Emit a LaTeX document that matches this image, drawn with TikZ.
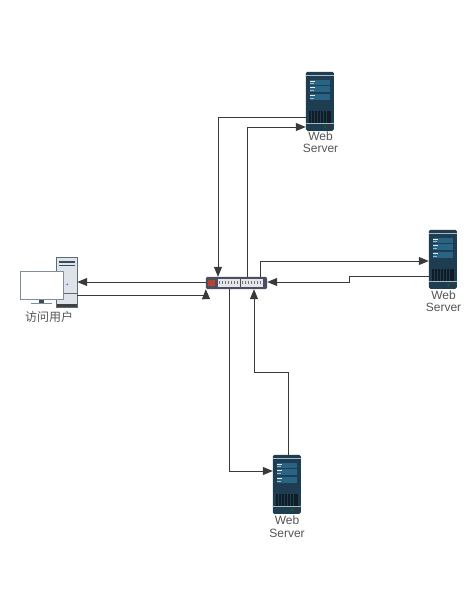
\documentclass[tikz,border=0pt]{standalone}
\usepackage{fontspec}
\setmainfont{Liberation Sans}
\newfontfamily\cjk{Noto Sans CJK SC}
\usetikzlibrary{arrows.meta,calc}
\definecolor{srvdark}{HTML}{1E3D50}
\definecolor{srvmid}{HTML}{2A6485}
\definecolor{srvblack}{HTML}{101C26}
\definecolor{srvlight}{HTML}{A9BAC4}
\definecolor{linec}{HTML}{3A3A3A}
\definecolor{txt}{HTML}{555555}
\definecolor{swbody}{HTML}{4B4F5F}
\definecolor{swred}{HTML}{B5452E}
\definecolor{swport}{HTML}{E4E5E8}
\definecolor{twbody}{HTML}{DDE3E8}
\definecolor{twedge}{HTML}{5D6C78}
\definecolor{twdark}{HTML}{3A4A58}
\definecolor{monedge}{HTML}{7F8E9A}
\tikzset{
 x=1pt,y=-1pt,
 plain/.style={draw=linec,line width=1pt},
 conn/.style={plain,-{Triangle[length=10pt,width=8pt]}},
 lbl/.style={text=txt,font=\fontsize{12}{12.5}\selectfont,align=center,inner sep=0pt},
 srv/.style={minimum width=28pt,minimum height=59pt,inner sep=0pt},
 pics/webserver/.style={code={
  \fill[srvdark,rounded corners=1.5pt] (0,0) rectangle (28,59);
  \fill[srvlight] (0,3.6) rectangle (28,4.4);
  \foreach \yy in {8,14.5,22.5}{
   \fill[srvmid] (4,\yy) rectangle (24,\yy+5.5);
   \fill[white!88!srvmid] (4.5,\yy+1) rectangle (9,\yy+2.1);
   \fill[white!55!srvmid] (4.5,\yy+3.4) rectangle (8,\yy+4.4);
  }
  \fill[srvblack] (3,39.5) rectangle (25,51);
  \foreach \xx in {5.5,8.5,...,23}{\draw[srvdark,line width=.4pt] (\xx,39.5) -- (\xx,51);}
  \fill[srvlight] (0,51.6) rectangle (28,52.5);
  \fill[green!55!black] (19.5,55.3) circle (.9);
  \fill[red!65!black] (23.6,55.3) circle (.9);
 }},
}
\begin{document}
\begin{tikzpicture}
\useasboundingbox (0,0) rectangle (476,589);
% servers
\node[srv] (s1) at (320,101.5) {};
\node[srv] (s2) at (443,259.5) {};
\node[srv] (s3) at (287,484.5) {};
\pic at (s1.north west) {webserver};
\pic at (s2.north west) {webserver};
\pic at (s3.north west) {webserver};
\node[lbl] (t1) at (320.5,142) {Web\\Server};
\node[lbl] (t2) at (443.5,301) {Web\\Server};
\node[lbl] (t3) at (287,526.5) {Web\\Server};
% switch
\node[minimum width=61pt,minimum height=12pt,inner sep=0pt] (sw) at (236.5,283) {};
\fill[swbody,rounded corners=1.5pt] (sw.north west) rectangle (sw.south east);
\begin{scope}[shift={(sw.north west)}]
 \fill[swred] (2,3) rectangle (9.5,9.5);
 \foreach \ox in {12,35}{
  \fill[swport] (\ox,2.5) rectangle (\ox+22,9.8);
  \foreach \i in {0,...,6}{
   \fill[black!55] (\ox+1+\i*2.95,4.2) rectangle (\ox+2.6+\i*2.95,7.4);
  }
 }
\end{scope}
% PC
\node[minimum width=20pt,minimum height=49pt,inner sep=0pt] (tower) at (67,282.5) {};
\fill[fill=twbody,draw=twedge,line width=.9pt] (tower.north west) rectangle (tower.south east);
\begin{scope}[shift={(tower.north west)}]
 \fill[twdark] (2,3.5) rectangle (18,5);
 \fill[twdark] (2,7.2) rectangle (18,8.4);
 \fill[black!75] (0,46) rectangle (20,49);
 \draw[twedge,line width=.5pt] (0,35) -- (20,35);
 \fill[blue!60!white] (10.5,26.5) circle (1);
\end{scope}
\fill[twdark] (39,299) rectangle (44,303);
\fill[monedge] (31,302.7) rectangle (52,304.3);
\node[minimum width=43pt,minimum height=28pt,inner sep=0pt,draw=monedge,fill=white,line width=1pt] (mon) at (41.5,285) {};
\node[lbl,font=\cjk\fontsize{12}{13}\selectfont] (t0) at (49,317) {访问用户};
% connectors
\coordinate (a1) at (218,117);
\draw[conn] (s1.west |- a1) -- (a1) -- (a1 |- sw.north);
\coordinate (a2) at (247,127);
\draw[conn] (a2 |- sw.north) -- (a2) -- (s1.west |- a2);
\coordinate (a3) at (260,261);
\draw[conn] (a3 |- sw.north) -- (a3) -- (s2.west |- a3);
\coordinate (a4) at (349,276);
\coordinate (a4b) at (349,282);
\draw[conn] (s2.west |- a4) -- (a4) -- (a4b) -- (sw.east |- a4b);
\coordinate (a5) at (229,471);
\draw[conn] (a5 |- sw.south) -- (a5) -- (s3.west |- a5);
\coordinate (a6) at (288,372);
\coordinate (a6b) at (254,372);
\draw[conn] (a6 |- s3.north) -- (a6) -- (a6b) -- (a6b |- sw.south);
\coordinate (a7) at (206,282);
\draw[conn] (sw.west |- a7) -- (tower.east |- a7);
\coordinate (a8) at (206,295);
\coordinate (a8b) at (206,299);
\draw[plain] (tower.east |- a8) -- (a8);
\draw[conn] (a8b) -- (sw.south west);
\end{tikzpicture}
\end{document}
